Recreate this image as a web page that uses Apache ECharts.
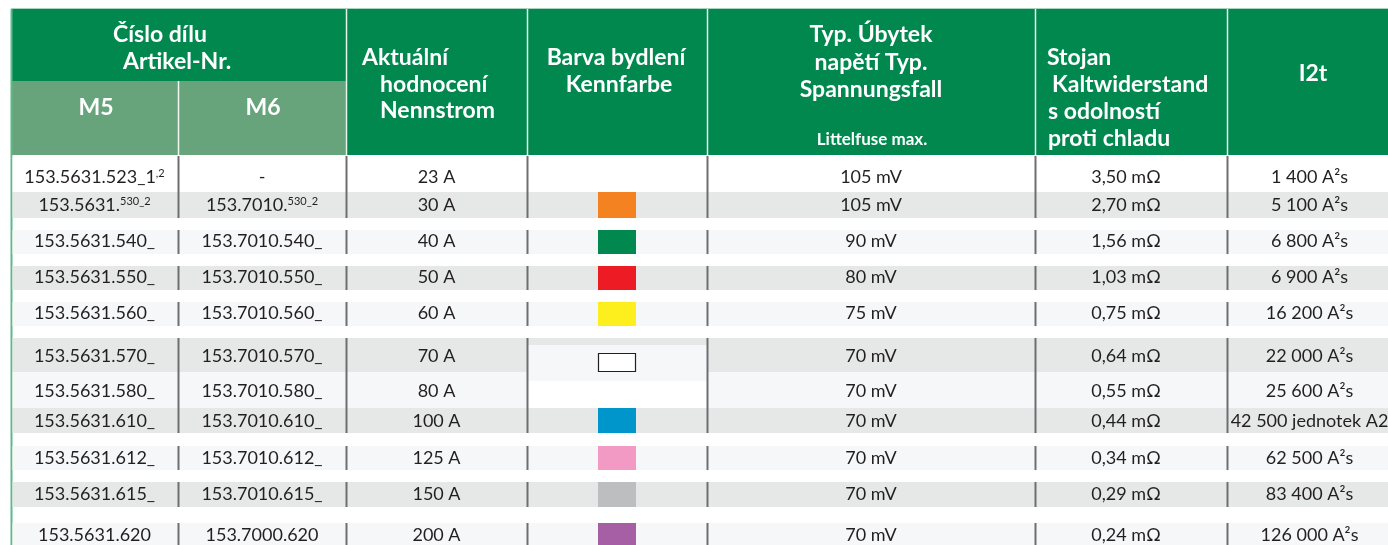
<!DOCTYPE html>
<html><head><meta charset="utf-8">
<script src="https://cdn.jsdelivr.net/npm/echarts@6/dist/echarts.min.js"></script>
<style>html,body{margin:0;padding:0;background:#fff}#c{width:1388px;height:545px}</style>
</head><body><div id="c"></div>
<script>
// ---------- DATA ----------
const headerGroup = ["Číslo dílu", "Artikel-Nr."];
const subHeaders = ["M5", "M6"];
const colHeaders = [
  ["Aktuální", "hodnocení", "Nennstrom"],
  ["Barva bydlení", "Kennfarbe"],
  ["Typ. Úbytek", "napětí Typ.", "Spannungsfall"],
  ["Stojan", "Kaltwiderstand", "s odolností", "proti chladu"],
  ["I2t"]
];
const headerNote = "Littelfuse max.";

const partM5 = ["153.5631.523_1", "153.5631.", "153.5631.540_", "153.5631.550_", "153.5631.560_", "153.5631.570_", "153.5631.580_", "153.5631.610_", "153.5631.612_", "153.5631.615_", "153.5631.620"];
const partM5Sup = [",2", "530_2", "", "", "", "", "", "", "", "", ""];
const partM6 = ["-", "153.7010.", "153.7010.540_", "153.7010.550_", "153.7010.560_", "153.7010.570_", "153.7010.580_", "153.7010.610_", "153.7010.612_", "153.7010.615_", "153.7000.620"];
const partM6Sup = ["", "530_2", "", "", "", "", "", "", "", "", ""];
const ratedCurrent = ["23 A", "30 A", "40 A", "50 A", "60 A", "70 A", "80 A", "100 A", "125 A", "150 A", "200 A"];
const housingColor = [null, "#F58220", "#00884F", "#ED1C24", "#FDEE1E", "#FFFFFF", null, "#0096CC", "#F29AC3", "#BCBEC0", "#A65FA5"];
const voltageDrop = ["105 mV", "105 mV", "90 mV", "80 mV", "75 mV", "70 mV", "70 mV", "70 mV", "70 mV", "70 mV", "70 mV"];
const coldResistance = ["3,50 mΩ", "2,70 mΩ", "1,56 mΩ", "1,03 mΩ", "0,75 mΩ", "0,64 mΩ", "0,55 mΩ", "0,44 mΩ", "0,34 mΩ", "0,29 mΩ", "0,24 mΩ"];
const i2t = ["1 400 A²s", "5 100 A²s", "6 800 A²s", "6 900 A²s", "16 200 A²s", "22 000 A²s", "25 600 A²s", "42 500 jednotek A2", "62 500 A²s", "83 400 A²s", "126 000 A²s"];

// ---------- LAYOUT / STYLE ----------
const colEdges = [11, 178, 346, 527, 707, 1035, 1227, 1396];
const rowTop = [156, 192, 230, 266, 302, 338, 372, 408, 446, 482, 523];
const rowBottom = [192, 218, 254, 290, 326, 372, 408, 433, 470, 507, 560];
const rowTextY = [177, 205, 241, 277, 313, 356, 391, 421, 458, 494, 535];
const rowFill = ['#FFFFFF', '#E6E7E7', '#F6F7F9', '#E6E7E7', '#F6F7F9', '#E6E7E7', '#F6F7F9', '#E6E7E7', '#F6F7F9', '#E6E7E7', '#F6F7F9'];
const GREEN = '#00884F', SUBGREEN = '#68A47B', TXT = '#231F20', SEP = '#6D6E70';
const HFONT = 'bold 23px Lato', BFONT = '18px Lato';
const HEAD_TOP = 9, HEAD_MID = 81, HEAD_BOT = 155;
// header line anchors
const headLayout = [
  {xs: [362, 380, 380], align: 'left', ys: [58, 85, 111]},
  {xs: [616, 619], align: 'center', ys: [58, 85]},
  {xs: [871, 871, 871], align: 'center', ys: [35, 63, 90]},
  {xs: [1047, 1052, 1048, 1048], align: 'left', ys: [58, 85, 112, 139]},
  {xs: [1313], align: 'center', ys: [74]}
];
const swatchX = [598, 636];

// ---------- HELPERS ----------
function R(api, x0, y0, x1, y1, style) {
  const a = api.coord([x0, y0]), b = api.coord([x1, y1]);
  return {type: 'rect', shape: {x: a[0], y: a[1], width: b[0] - a[0], height: b[1] - a[1]}, style: style};
}
function L(api, x0, y0, x1, y1, stroke, w) {
  const a = api.coord([x0, y0]), b = api.coord([x1, y1]);
  return {type: 'line', shape: {x1: a[0], y1: a[1], x2: b[0], y2: b[1]}, style: {stroke: stroke, lineWidth: w}};
}
function T(api, x, y, str, align, font, fill, rich) {
  const p = api.coord([x, y]);
  const st = {text: str, x: p[0], y: p[1], align: align, verticalAlign: 'middle', font: font, fill: fill};
  if (rich) st.rich = rich;
  return {type: 'text', style: st, z2: 10};
}
const supRich = {
  n: {font: BFONT, fill: TXT, verticalAlign: 'middle', lineHeight: 21},
  sup: {fontFamily: 'Lato', fontSize: 11, fill: TXT, verticalAlign: 'top', lineHeight: 21, padding: [1, 0, 0, 0]}
};
function partText(main, sup) {
  return sup ? '{n|' + main + '}{sup|' + sup + '}' : main;
}

// ---------- HEADER ----------
function renderHeader(params, api) {
  const i = params.dataIndex;
  const ch = [];
  if (i === 0) {
    ch.push(L(api, 11, 8.5, 1388, 8.5, '#A8D5BE', 1));
    ch.push(R(api, 11, HEAD_TOP, 346, HEAD_MID, {fill: GREEN}));
    ch.push(R(api, 11, HEAD_MID, 178, HEAD_BOT, {fill: SUBGREEN}));
    ch.push(R(api, 178, HEAD_MID, 346, HEAD_BOT, {fill: SUBGREEN}));
    ch.push(L(api, 178.5, HEAD_MID, 178.5, HEAD_BOT, '#F0F6F2', 1.5));
    ch.push(L(api, 11.5, HEAD_TOP, 11.5, 545, '#5DB98A', 2));
    ch.push(T(api, 113, 35, headerGroup[0], 'left', HFONT, '#FFFFFF'));
    ch.push(T(api, 123, 62, headerGroup[1], 'left', HFONT, '#FFFFFF'));
    ch.push(T(api, 96, 108, subHeaders[0], 'center', HFONT, '#FFFFFF'));
    ch.push(T(api, 263, 108, subHeaders[1], 'center', HFONT, '#FFFFFF'));
  } else {
    const k = i - 1;
    const x0 = colEdges[k + 2], x1 = colEdges[k + 3];
    ch.push(R(api, x0, HEAD_TOP, x1, HEAD_BOT, {fill: GREEN}));
    ch.push(L(api, x0 + 0.5, HEAD_TOP, x0 + 0.5, HEAD_BOT, '#E8F3EC', 1.5));
    const lay = headLayout[k];
    colHeaders[k].forEach(function (s, j) {
      ch.push(T(api, lay.xs[j], lay.ys[j], s, lay.align, HFONT, '#FFFFFF'));
    });
    if (k === 2) ch.push(T(api, 872, 140, headerNote, 'center', 'bold 17px Lato', '#FFFFFF'));
  }
  return {type: 'group', children: ch};
}

// ---------- BODY ----------
function renderRow(params, api) {
  const i = params.dataIndex;
  const top = rowTop[i], bot = rowBottom[i];
  const ch = [];
  ch.push(R(api, 12.5, top, 1396, bot, {fill: rowFill[i]}));
  if (i === 5) ch.push(R(api, colEdges[3], 345, colEdges[4], bot, {fill: '#F6F7F9'}));
  if (i === 6) {
    ch.push(R(api, colEdges[3], top, colEdges[4], 381, {fill: '#F6F7F9'}));
    ch.push(R(api, colEdges[3], 381, colEdges[4], bot, {fill: '#FFFFFF'}));
  }
  for (let c = 1; c <= 6; c++) ch.push(L(api, colEdges[c] + 0.5, top, colEdges[c] + 0.5, bot, SEP, 2));
  const cx = function (c) { return (colEdges[c] + colEdges[c + 1]) / 2; };
  const y = rowTextY[i];
  ch.push(T(api, cx(0), y, partText(partM5[i], partM5Sup[i]), 'center', BFONT, TXT, supRich));
  ch.push(T(api, cx(1), y, partText(partM6[i], partM6Sup[i]), 'center', BFONT, TXT, supRich));
  ch.push(T(api, cx(2), y, ratedCurrent[i], 'center', BFONT, TXT));
  ch.push(T(api, cx(4), y, voltageDrop[i], 'center', BFONT, TXT));
  ch.push(T(api, cx(5) - 5, y, coldResistance[i], 'center', BFONT, TXT));
  ch.push(T(api, cx(6) - 2, y, i2t[i], 'center', BFONT, TXT));
  const col = housingColor[i];
  if (col) {
    if (col === '#FFFFFF') {
      const box = R(api, swatchX[0] + 0.5, 353.5, swatchX[1] - 0.5, 371.5, {fill: col, stroke: '#231F20', lineWidth: 1.2});
      box.z2 = 20;
      ch.push(box);
    } else {
      ch.push(R(api, swatchX[0], top, swatchX[1], bot, {fill: col}));
    }
  }
  return {type: 'group', children: ch};
}

const chart = echarts.init(document.getElementById('c'), null, {renderer: 'canvas'});
chart.setOption({
  animation: false,
  grid: {left: 0, right: 0, top: 0, bottom: 0},
  xAxis: {type: 'value', min: 0, max: 1388, show: false},
  yAxis: {type: 'value', min: 0, max: 545, inverse: true, show: false},
  series: [
    {type: 'custom', coordinateSystem: 'cartesian2d', renderItem: renderHeader, clip: false,
     data: [0, 1, 2, 3, 4, 5].map(function (v) { return [v, 0]; })},
    {type: 'custom', coordinateSystem: 'cartesian2d', renderItem: renderRow, clip: true,
     data: ratedCurrent.map(function (v, i) { return [i, i]; })}
  ]
});
</script>
</body></html>
